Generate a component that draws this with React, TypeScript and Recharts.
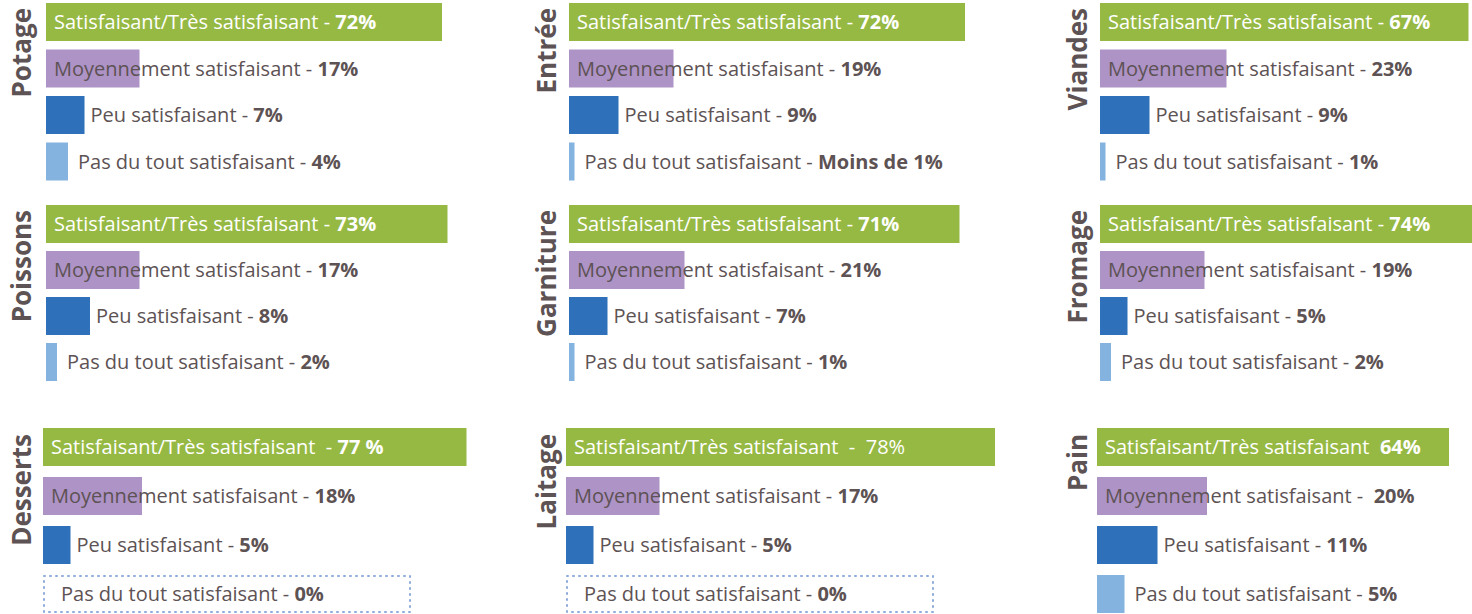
import { BarChart, Bar, XAxis, YAxis } from 'recharts';

const CATEGORIES = ['Potage', 'Entrée', 'Viandes', 'Poissons', 'Garniture', 'Fromage', 'Desserts', 'Laitage', 'Pain'];
const RESPONSES = ['Satisfaisant/Très satisfaisant', 'Moyennement satisfaisant', 'Peu satisfaisant', 'Pas du tout satisfaisant'];

// percentages per category (same order as CATEGORIES)
const SATISFAIT = [72, 72, 67, 73, 71, 74, 77, 78, 64];
const MOYEN = [17, 19, 23, 17, 21, 19, 18, 17, 20];
const PEU = [7, 9, 9, 8, 7, 5, 5, 5, 11];
const PAS_DU_TOUT = [4, 1, 1, 2, 1, 2, 0, 0, 5];

// a few labels are written differently on the original
const SEP_OVERRIDES: Record<string, string> = { '6-0': '  - ', '7-0': '  -  ', '8-0': '  ', '8-1': ' -  ' };
const VALUE_OVERRIDES: Record<string, string> = { '1-3': 'Moins de 1%', '6-0': '77 %' };
const PLAIN_VALUES = ['7-0'];

const COLORS = ['#96b944', '#ae93c6', '#2e71ba', '#84b3e0'];
const TEXT = '#5d5254';
const FONT = '"Open Sans", sans-serif';
const FS = 20;

const PX_PER_PCT = 5.5;
const CHART_W = 470;
const COL_X = [46, 569, 1100];
const ROWS = [
  { top: -1, height: 186, shift: 0, labelTop: 8 },
  { top: 201, height: 184, shift: 0, labelTop: 210 },
  { top: 422, height: 196, shift: -3, labelTop: 434 },
];
const LABEL_X = [22, 547, 1078];

function buildData(c: number) {
  const values = [SATISFAIT[c], MOYEN[c], PEU[c], PAS_DU_TOUT[c]];
  return values.map((v, r) => {
    const key = `${c}-${r}`;
    return {
      name: RESPONSES[r],
      value: v,
      row: r,
      sep: SEP_OVERRIDES[key] ?? ' - ',
      strong: VALUE_OVERRIDES[key] ?? `${v}%`,
      plain: PLAIN_VALUES.includes(key),
    };
  });
}

function BarWithText(props: any) {
  const { x, y, width, height, payload } = props;
  const r = payload.row;
  const baseline = y + height / 2 + FS * 0.36;
  const label = (tx: number, color: string) => (
    <text x={tx} y={baseline} fontFamily={FONT} fontSize={FS} fill={color} style={{ whiteSpace: 'pre' }}>
      <tspan>{payload.name + payload.sep}</tspan>
      <tspan fontWeight={payload.plain ? 400 : 700}>{payload.strong}</tspan>
    </text>
  );
  if (payload.value === 0) {
    return (
      <g>
        <rect x={x + 1} y={y + 1} width={366} height={height - 2} fill="none" stroke="#8eaadb" strokeWidth={2} strokeDasharray="1 5" strokeLinecap="round" />
        {label(x + 18, TEXT)}
      </g>
    );
  }
  let tx = x + width + (r === 2 ? 6 : 10);
  if (r < 2) tx = x + 8;
  return (
    <g>
      <rect x={x} y={y} width={width} height={height} fill={COLORS[r]} />
      {label(tx, r === 0 ? '#ffffff' : TEXT)}
    </g>
  );
}

function Panel({ c }: { c: number }) {
  const row = ROWS[Math.floor(c / 3)];
  const col = c % 3;
  const data = buildData(c);
  return (
    <>
      <svg style={{ position: 'absolute', left: LABEL_X[col] - 20, top: 0, overflow: 'visible' }} width={40} height={614}>
        <text
          transform={`translate(20, ${row.labelTop}) rotate(-90)`}
          y={9}
          textAnchor="end"
          fontFamily={FONT}
          fontWeight={700}
          fontSize={26}
          fill={TEXT}
        >
          {CATEGORIES[c]}
        </text>
      </svg>
      <div style={{ position: 'absolute', left: COL_X[col] + row.shift, top: row.top }}>
        <BarChart width={CHART_W} height={row.height} data={data} layout="vertical" margin={{ top: 0, right: 0, bottom: 0, left: 0 }}>
          <XAxis type="number" hide domain={[0, CHART_W / PX_PER_PCT]} allowDataOverflow />
          <YAxis type="category" dataKey="name" hide />
          <Bar dataKey="value" barSize={38} isAnimationActive={false} shape={BarWithText} />
        </BarChart>
      </div>
    </>
  );
}

export default function App() {
  return (
    <div style={{ position: 'absolute', left: 0, top: 0, width: 1472, height: 614, overflow: 'hidden', background: '#fff' }}>
      {CATEGORIES.map((_, c) => (
        <Panel key={c} c={c} />
      ))}
    </div>
  );
}
